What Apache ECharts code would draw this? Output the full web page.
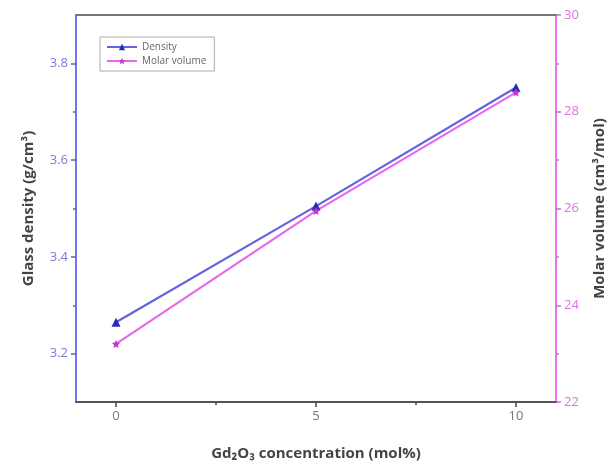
<!DOCTYPE html>
<html>
<head>
<meta charset="utf-8">
<script src="https://cdn.jsdelivr.net/npm/echarts@6/dist/echarts.min.js"></script>
<style>
  html, body { margin: 0; padding: 0; background: #fff; }
  #chart { width: 615px; height: 469px; }
</style>
</head>
<body>
<div id="chart"></div>
<script>
// Gd2O3 content (mol%)
const concentration = [0, 5, 10];
// Glass density (g/cm3)
const density = [3.265, 3.505, 3.75];
// Molar volume (cm3/mol)
const molarVolume = [23.2, 25.95, 28.4];

const xTicks = [0, 5, 10];
const xMinorTicks = [2.5, 7.5];
const densityTicks = [3.2, 3.4, 3.6, 3.8];
const densityMinorTicks = [3.3, 3.5, 3.7];

const FONT = 'Open Sans, Liberation Sans, sans-serif';
const BLUE = '#7474ee';
const PINK = '#f070f0';

const chart = echarts.init(document.getElementById('chart'), null, { renderer: 'canvas' });

const pairs = (ys) => concentration.map((x, i) => [x, ys[i]]);

chart.setOption({
  animation: false,
  backgroundColor: '#ffffff',
  textStyle: { fontFamily: FONT },
  grid: { left: 76, right: 57, top: 15, bottom: 67, containLabel: false },
  legend: {
    left: 100, top: 37,
    orient: 'vertical',
    itemGap: 4,
    itemWidth: 30, itemHeight: 8,
    padding: [5, 8, 5, 6],
    borderColor: '#aaaaaa', borderWidth: 1,
    textStyle: { fontSize: 10, color: '#666666', fontFamily: FONT },
    data: ['Density', 'Molar volume']
  },
  xAxis: [
    {
      type: 'value', min: -1, max: 11, position: 'bottom',
      name: 'Gd\u2082O\u2083 concentration (mol%)',
      nameLocation: 'middle', nameGap: 44,
      nameTextStyle: { fontSize: 15, fontWeight: 'bold', color: '#444444', fontFamily: FONT },
      axisLine: { onZero: false, lineStyle: { color: '#555555', width: 2 } },
      axisTick: { show: true, customValues: xTicks, length: 5, lineStyle: { color: '#444444', width: 1.5 } },
      axisLabel: { customValues: xTicks, fontSize: 13, color: '#777777', margin: 8, fontFamily: FONT },
      splitLine: { show: false }
    },
    {
      // minor ticks on the bottom edge
      type: 'value', min: -1, max: 11, position: 'bottom',
      axisLine: { show: false, onZero: false },
      axisTick: { show: true, customValues: xMinorTicks, length: 3, lineStyle: { color: '#444444', width: 1.5 } },
      axisLabel: { show: false },
      splitLine: { show: false }
    },
    {
      // top frame line
      type: 'value', min: -1, max: 11, position: 'top',
      axisLine: { onZero: false, lineStyle: { color: '#777777', width: 2 } },
      axisTick: { show: false },
      axisLabel: { show: false },
      splitLine: { show: false }
    }
  ],
  yAxis: [
    {
      type: 'value', min: 3.1, max: 3.9, position: 'left',
      name: 'Glass density (g/cm\u00b3)',
      nameLocation: 'middle', nameGap: 40, nameRotate: 90,
      nameTextStyle: { fontSize: 15, fontWeight: 'bold', color: '#444444', fontFamily: FONT },
      axisLine: { show: true, onZero: false, lineStyle: { color: BLUE, width: 2 } },
      axisTick: { show: true, customValues: densityTicks, length: 5, lineStyle: { color: '#6060b0', width: 1.5 } },
      axisLabel: { customValues: densityTicks, fontSize: 13, color: '#7b7bd8', margin: 8, fontFamily: FONT,
                   formatter: (v) => v.toFixed(1) },
      splitLine: { show: false }
    },
    {
      type: 'value', min: 22, max: 30, interval: 2, position: 'right',
      name: 'Molar volume (cm\u00b3/mol)',
      nameLocation: 'middle', nameGap: 36, nameRotate: 90,
      nameTextStyle: { fontSize: 15, fontWeight: 'bold', color: '#444444', fontFamily: FONT },
      axisLine: { show: true, onZero: false, lineStyle: { color: PINK, width: 2 } },
      axisTick: { show: true, length: 5, lineStyle: { color: '#a080c0', width: 1.5 } },
      minorTick: { show: true, splitNumber: 2, length: 3, lineStyle: { color: '#a080c0', width: 1.5 } },
      axisLabel: { fontSize: 13, color: '#e070e0', margin: 8, fontFamily: FONT },
      splitLine: { show: false }
    },
    {
      // minor ticks on the density axis
      type: 'value', min: 3.1, max: 3.9, position: 'left',
      axisLine: { show: false, onZero: false },
      axisTick: { show: true, customValues: densityMinorTicks, length: 3, lineStyle: { color: '#6060b0', width: 1.5 } },
      axisLabel: { show: false },
      splitLine: { show: false }
    }
  ],
  series: [
    {
      name: 'Density', type: 'line',
      xAxisIndex: 0, yAxisIndex: 0,
      data: pairs(density),
      symbol: 'triangle', symbolSize: 9,
      lineStyle: { color: '#6464de', width: 2.2 },
      itemStyle: { color: '#2a2ab8' }
    },
    {
      name: 'Molar volume', type: 'line',
      xAxisIndex: 0, yAxisIndex: 1,
      data: pairs(molarVolume),
      symbol: 'path://M0,-10 L2.9,-4 L9.5,-3.1 L4.7,1.5 L5.9,8.1 L0,5 L-5.9,8.1 L-4.7,1.5 L-9.5,-3.1 L-2.9,-4 Z',
      symbolSize: 8,
      lineStyle: { color: '#e868e8', width: 2.2 },
      itemStyle: { color: '#c838c8' }
    }
  ]
});
</script>
</body>
</html>
